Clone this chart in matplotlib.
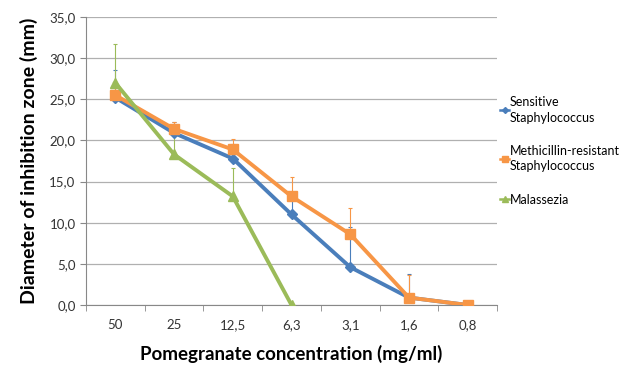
import matplotlib
matplotlib.use('Agg')
import matplotlib.pyplot as plt
import numpy as np

# data
concentrations = ['50', '25', '12,5', '6,3', '3,1', '1,6', '0,8']
sensitive = [25.2, 20.9, 17.8, 11.0, 4.6, 0.9, 0.0]
sensitive_err = [3.4, 1.3, 1.8, 2.1, 4.9, 2.9, 0.1]
mrsa = [25.5, 21.4, 18.9, 13.2, 8.6, 0.9, 0.0]
mrsa_err = [1.0, 0.8, 1.3, 2.3, 3.2, 2.8, 0.1]
malassezia = [27.0, 18.3, 13.2, 0.0]
malassezia_err = [4.7, 2.5, 3.4, 0.0]

labels = ['Sensitive\nStaphylococcus', 'Methicillin-resistant\nStaphylococcus', 'Malassezia']

plt.rcParams['font.family'] = ['Lato', 'DejaVu Sans']

fig = plt.figure(figsize=(6.27, 3.65), dpi=100)
ax = fig.add_axes([86 / 627, 1 - 305 / 365, (497 - 86) / 627, (305 - 17) / 365])

x = np.arange(len(concentrations))
series = [
    (sensitive, sensitive_err, '#4A7EBB', 'D', 5.5),
    (mrsa, mrsa_err, '#F79646', 's', 7),
    (malassezia, malassezia_err, '#9BBB59', '^', 7.5),
]

handles = []
for (vals, err, col, mk, ms), lab in zip(series, labels):
    xs = x[:len(vals)]
    ax.errorbar(xs, vals, yerr=[np.zeros(len(err)), err], fmt='none',
                ecolor=col, elinewidth=0.8, capsize=1.5, capthick=0.8, zorder=2)
    h, = ax.plot(xs, vals, color=col, lw=2.8, marker=mk, ms=ms,
                 markeredgecolor=col, label=lab, zorder=3)
    handles.append(h)

ax.set_xlim(-0.5, len(concentrations) - 0.5)
ax.set_ylim(0, 35)
ax.set_yticks(np.arange(0, 35.1, 5))
ax.set_yticklabels([f'{v:.1f}'.replace('.', ',') for v in np.arange(0, 35.1, 5)])
ax.set_xticks(x)
ax.set_xticklabels(concentrations)
ax.set_xticks(np.arange(-0.5, len(concentrations), 1), minor=True)
ax.tick_params(axis='x', which='major', length=0, pad=10, labelsize=9.5, colors='#333333')
ax.tick_params(axis='x', which='minor', length=4, color='#888888', direction='out')
ax.tick_params(axis='y', length=4, color='#888888', labelsize=9.5, labelcolor='#333333')

ax.grid(True, axis='y', color='#b0b0b0', lw=0.9)
ax.set_axisbelow(True)
for s in ['top', 'right']:
    ax.spines[s].set_visible(False)
ax.spines['left'].set_color('#888888')
ax.spines['bottom'].set_color('#888888')

ax.set_xlabel('Pomegranate concentration (mg/ml)', fontsize=13.5, fontweight='bold', labelpad=10)
ax.set_ylabel('Diameter of inhibition zone (mm)', fontsize=14, fontweight='bold', labelpad=8)

leg = fig.legend(handles=handles, loc='upper left', bbox_to_anchor=(500 / 627, 1 - 96 / 365),
                 frameon=False, fontsize=9, handlelength=0.75, handletextpad=0.05,
                 labelspacing=1.7, borderaxespad=0, borderpad=0, markerscale=0.55)
for t in leg.get_texts():
    t.set_linespacing(1.35)
for l in leg.get_lines():
    l.set_linewidth(1.8)

fig.savefig('out.png', dpi=100)
